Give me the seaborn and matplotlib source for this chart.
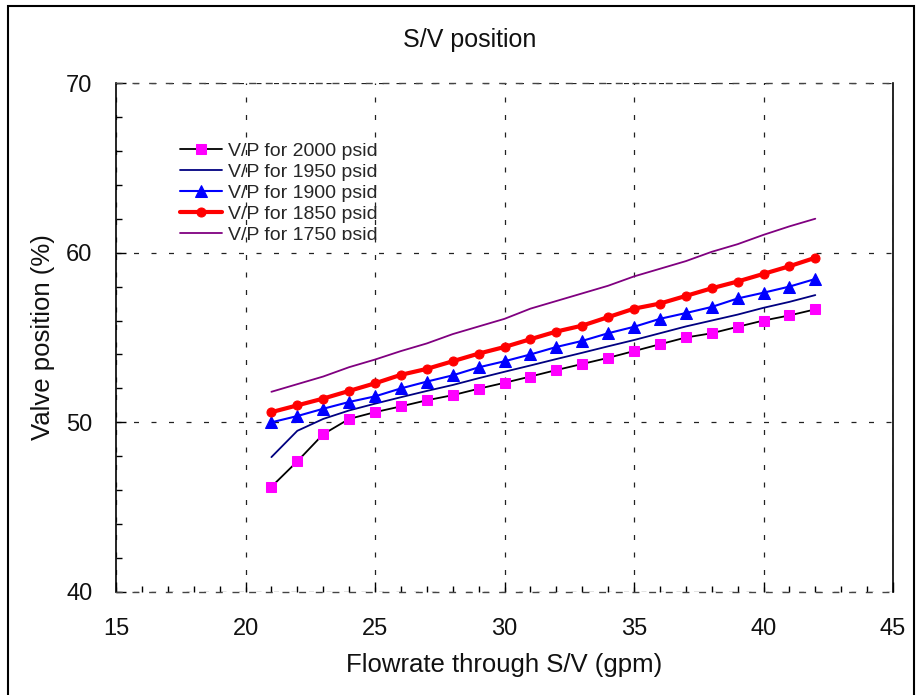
import matplotlib
matplotlib.use("Agg")
import matplotlib.pyplot as plt
import seaborn as sns
import pandas as pd
from matplotlib.patches import Rectangle
from matplotlib.ticker import MultipleLocator
from matplotlib.transforms import Bbox

flow = [21, 22, 23, 24, 25, 26, 27, 28, 29, 30, 31, 32, 33, 34, 35, 36, 37, 38, 39, 40, 41, 42]
vp_2000 = [46.2, 47.7, 49.3, 50.2, 50.6, 50.94, 51.3, 51.6, 51.98, 52.33, 52.7, 53.08, 53.44, 53.8,
           54.2, 54.6, 55.0, 55.25, 55.63, 56.0, 56.3, 56.66]
vp_1950 = [47.95, 49.5, 50.2, 50.7, 51.1, 51.48, 51.85, 52.2, 52.6, 52.98, 53.35, 53.73, 54.1, 54.48,
           54.85, 55.25, 55.65, 56.0, 56.35, 56.75, 57.1, 57.5]
vp_1900 = [50.0, 50.37, 50.8, 51.2, 51.53, 52.0, 52.4, 52.77, 53.24, 53.6, 54.0, 54.44, 54.8, 55.25,
           55.63, 56.1, 56.44, 56.8, 57.3, 57.64, 58.0, 58.45]
vp_1850 = [50.6, 51.0, 51.4, 51.85, 52.3, 52.8, 53.15, 53.6, 54.05, 54.44, 54.9, 55.35, 55.7, 56.2,
           56.7, 57.0, 57.45, 57.9, 58.3, 58.75, 59.2, 59.7]
vp_1750 = [51.8, 52.25, 52.7, 53.25, 53.7, 54.2, 54.65, 55.2, 55.65, 56.1, 56.7, 57.15, 57.6, 58.05,
           58.6, 59.05, 59.5, 60.05, 60.5, 61.05, 61.55, 62.0]

labels = ["V/P for 2000 psid", "V/P for 1950 psid", "V/P for 1900 psid",
          "V/P for 1850 psid", "V/P for 1750 psid"]
series = [vp_2000, vp_1950, vp_1900, vp_1850, vp_1750]

sns.set_style("white")
plt.rcParams['font.family'] = ['Liberation Sans', 'DejaVu Sans']

W, H = 922, 695
fig = plt.figure(figsize=(W/100, H/100), dpi=100)
ax = fig.add_axes([116/W, 1-592/H, (893-116)/W, (592-83)/H])

styles = [
    dict(color="black", marker="s", markerfacecolor="#FF00FF", markeredgecolor="#FF00FF", markersize=7, linewidth=1.3),
    dict(color="#000080", marker=None, linewidth=1.3),
    dict(color="#0000FF", marker="^", markerfacecolor="#0000FF", markeredgecolor="#0000FF", markersize=8, linewidth=1.5),
    dict(color="#FF0000", marker="o", markerfacecolor="#FF0000", markeredgecolor="#FF0000", markersize=6.5, linewidth=3),
    dict(color="#800080", marker=None, linewidth=1.3),
]

for lab, vals, st in zip(labels, series, styles):
    df = pd.DataFrame({"flow": flow, "vp": vals})
    sns.lineplot(data=df, x="flow", y="vp", ax=ax, label=lab, **st)

ax.set_xlim(15, 45)
ax.set_ylim(40, 70)
ax.xaxis.set_major_locator(MultipleLocator(5))
ax.yaxis.set_major_locator(MultipleLocator(10))
ax.xaxis.set_minor_locator(MultipleLocator(1))
ax.yaxis.set_minor_locator(MultipleLocator(2))
ax.tick_params(axis="both", which="major", direction="in", length=7, width=1, labelsize=17, color="black",
               labelcolor="#111111")
ax.tick_params(axis="x", which="major", pad=19)
ax.tick_params(axis="y", which="major", pad=17)
ax.tick_params(axis="both", which="minor", direction="in", length=4, width=1, color="black")
ax.tick_params(axis="y", which="both", left=True)
ax.tick_params(axis="x", which="both", bottom=True)

ax.grid(True, which="major", color="#222222", linestyle=(0, (4, 10)), linewidth=0.9)
for side in ["left", "right"]:
    ax.spines[side].set_color("black")
    ax.spines[side].set_linewidth(1.2)
for side in ["top", "bottom"]:
    ax.spines[side].set_color("#444444")
    ax.spines[side].set_linewidth(1.0)
    ax.spines[side].set_linestyle((0, (4, 8)))

ax.set_xlabel("Flowrate through S/V (gpm)", fontsize=18.5, labelpad=9, color="#111111")
ax.set_ylabel("Valve position (%)", fontsize=18.5, labelpad=8, color="#111111")
fig.text(470/W, 1-40/H, "S/V position", fontsize=18, ha="center", va="center", color="#111111")

leg = ax.legend(loc="upper left", bbox_to_anchor=(0.0824, 0.884), frameon=False, fontsize=14,
                handlelength=2.16, handletextpad=0.3, labelspacing=0.18, borderaxespad=0, borderpad=0)

# the reference clips the legend at its bottom edge
clip = Bbox.from_extents(0, H - 240, W, H)
for t in leg.get_texts():
    t.set_clip_box(clip)
    t.set_clip_on(True)
for h in leg.legend_handles:
    h.set_clip_box(clip)
    h.set_clip_on(True)

fig.patches.append(Rectangle((8/W, -0.01), (914-8)/W, 1.01-6/H, transform=fig.transFigure,
                             fill=False, edgecolor="black", linewidth=1.5))

fig.savefig("out.png", dpi=100)
